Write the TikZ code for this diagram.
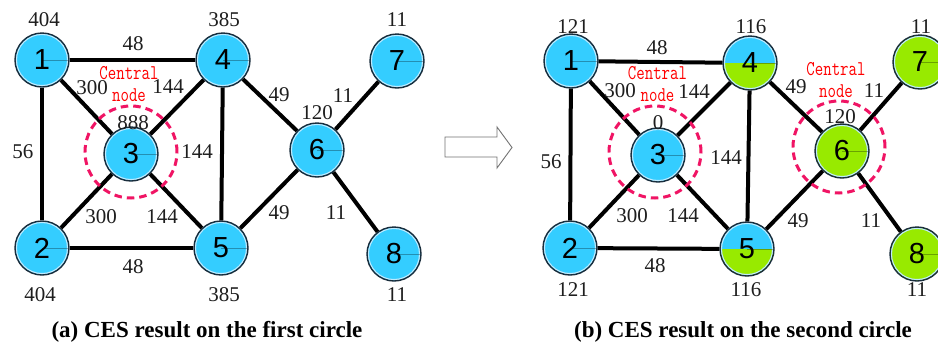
\documentclass[tikz,border=0pt]{standalone}
\usepackage{fontspec}
\setmainfont{Liberation Serif}
\newfontfamily\vtxfont{Liberation Sans}
\definecolor{nodeblue}{RGB}{52,205,255}
\definecolor{nodegreen}{RGB}{152,234,0}
\definecolor{nodeedge}{RGB}{25,45,60}
\definecolor{ringcol}{RGB}{190,235,255}
\definecolor{hotpink}{RGB}{240,20,100}
\definecolor{tagred}{RGB}{255,0,0}
\definecolor{numcol}{RGB}{30,30,30}
% narrow, tall lettering for the "Central node" tags
\newcommand\narrowtag[1]{\scalebox{0.78}[1]{#1}}
\begin{document}
\begin{tikzpicture}[x=1pt,y=-1pt,
  ring/.code={\draw[ringcol, line width=1.2pt] (path picture bounding box.center) circle (25.6pt);
              \draw[black, opacity=0.3, line width=0.6pt] (path picture bounding box.center) -- (path picture bounding box.east);},
  vtxbase/.style={circle, minimum size=54pt, inner sep=0pt, draw=nodeedge, line width=1.4pt,
                  font=\vtxfont\fontsize{29}{30}\selectfont},
  vtx/.style={vtxbase, fill=nodeblue, path picture={\tikzset{ring}}},
  vtxhalf/.style={vtxbase, fill=nodeblue, path picture={
      \fill[nodegreen] (path picture bounding box.west) rectangle (path picture bounding box.south east);
      \tikzset{ring}}},
  vtxgreen/.style={vtxbase, fill=nodegreen, path picture={\tikzset{ring}}},
  link/.style={line width=4pt, black},
  num/.style={font=\fontsize{21}{22}\selectfont, text=numcol, inner sep=0pt},
  tag/.style={font=\ttfamily\fontsize{21}{22}\selectfont, text=tagred, inner sep=0pt, align=center},
  halo/.style={circle, minimum size=92pt, inner sep=0pt, draw=hotpink, line width=3pt, dash pattern=on 7.5pt off 5pt},
  caption/.style={font=\bfseries\fontsize{23}{25}\selectfont, inner sep=0pt}]
\clip (0,0) rectangle (938,341);
\fill[white] (0,0) rectangle (938,341);

% ---------- (a) first circle ----------
\node[vtx] (a1) at (42,60) {1};
\node[vtx] (a2) at (42,248) {2};
\node[vtx] (a3) at (131,154) {3};
\node[vtx] (a4) at (223,60) {4};
\node[vtx] (a5) at (221,248) {5};
\node[vtx] (a6) at (317,150) {6};
\node[vtx] (a7) at (397,61) {7};
\node[vtx] (a8) at (394,254) {8};

\foreach \u/\v in {1/4,1/3,1/2,3/4,3/2,3/5,4/5,2/5,4/6,5/6,6/7,6/8}
  \draw[link] (a\u) -- (a\v);

\node[halo] (ha) at (131,152) {};

\node[num] (wa1) at (44,20) {404};
\node[num] (wa4) at (224,20) {385};
\node[num] (wa7) at (397,20) {11};
\node[num] (wa3) at (133,123) {888};
\node[num] (wa6) at (317,113) {120};
\node[num] (wa2) at (40,295) {404};
\node[num] (wa5) at (224,295) {385};
\node[num] (wa8) at (397,295) {11};
\node[num] (ea14) at (133,44) {48};
\node[num] (ea13) at (92,88) {300};
\node[num] (ea34) at (168,87) {144};
\node[num] (ea12) at (23,152) {56};
\node[num] (ea45) at (197,152) {144};
\node[num] (ea46) at (279,95) {49};
\node[num] (ea67) at (343,96) {11};
\node[num] (ea23) at (101,217) {300};
\node[num] (ea35) at (162,217) {144};
\node[num] (ea56) at (279,213) {49};
\node[num] (ea68) at (336,213) {11};
\node[num] (ea25) at (133,267) {48};
\node[tag] (ta) at (129,84) {\narrowtag{Central}\\\narrowtag{node}};
\node[caption] (capa) at (207,332) {(a) CES result on the first circle};

% ---------- transition arrow ----------
\draw[black!55, line width=0.9pt, line join=miter]
  (445,137) -- (497,137) -- (497,127) -- (512,147.5) -- (497,168) -- (497,157) -- (445,157) -- cycle;

% ---------- (b) second circle ----------
\node[vtx] (b1) at (571,61) {1};
\node[vtx] (b2) at (570,248) {2};
\node[vtx] (b3) at (658,155) {3};
\node[vtxhalf] (b4) at (750,63) {4};
\node[vtxhalf] (b5) at (747,249) {5};
\node[vtxgreen] (b6) at (842,151) {6};
\node[vtxgreen] (b7) at (920,62) {7};
\node[vtxgreen] (b8) at (917,254) {8};

\foreach \u/\v in {1/4,1/3,1/2,3/4,3/2,3/5,4/5,2/5,4/6,5/6,6/7,6/8}
  \draw[link] (b\u) -- (b\v);

\node[halo] (hb3) at (655,152) {};
\node[halo] (hb6) at (839,147) {};

\node[num] (wb1) at (573,27) {121};
\node[num] (wb4) at (751,27) {116};
\node[num] (wb7) at (921,27) {11};
\node[num] (wb3) at (658,123) {0};
\node[num] (wb6) at (840,117) {120};
\node[num] (wb2) at (573,290) {121};
\node[num] (wb5) at (746,290) {116};
\node[num] (wb8) at (917,290) {11};
\node[num] (eb14) at (657,48) {48};
\node[num] (eb13) at (620,91) {300};
\node[num] (eb34) at (694,92) {144};
\node[num] (eb12) at (551,162) {56};
\node[num] (eb45) at (726,158) {144};
\node[num] (eb46) at (796,87) {49};
\node[num] (eb67) at (874,91) {11};
\node[num] (eb23) at (632,216) {300};
\node[num] (eb35) at (683,216) {144};
\node[num] (eb56) at (798,221) {49};
\node[num] (eb68) at (871,221) {11};
\node[num] (eb25) at (655,266) {48};
\node[tag] (tb3) at (657.5,84.5) {\narrowtag{Central}\\\narrowtag{node}};
\node[tag] (tb6) at (836,80) {\narrowtag{Central}\\\narrowtag{node}};
\node[caption] (capb) at (743,332) {(b) CES result on the second circle};
\end{tikzpicture}
\end{document}
